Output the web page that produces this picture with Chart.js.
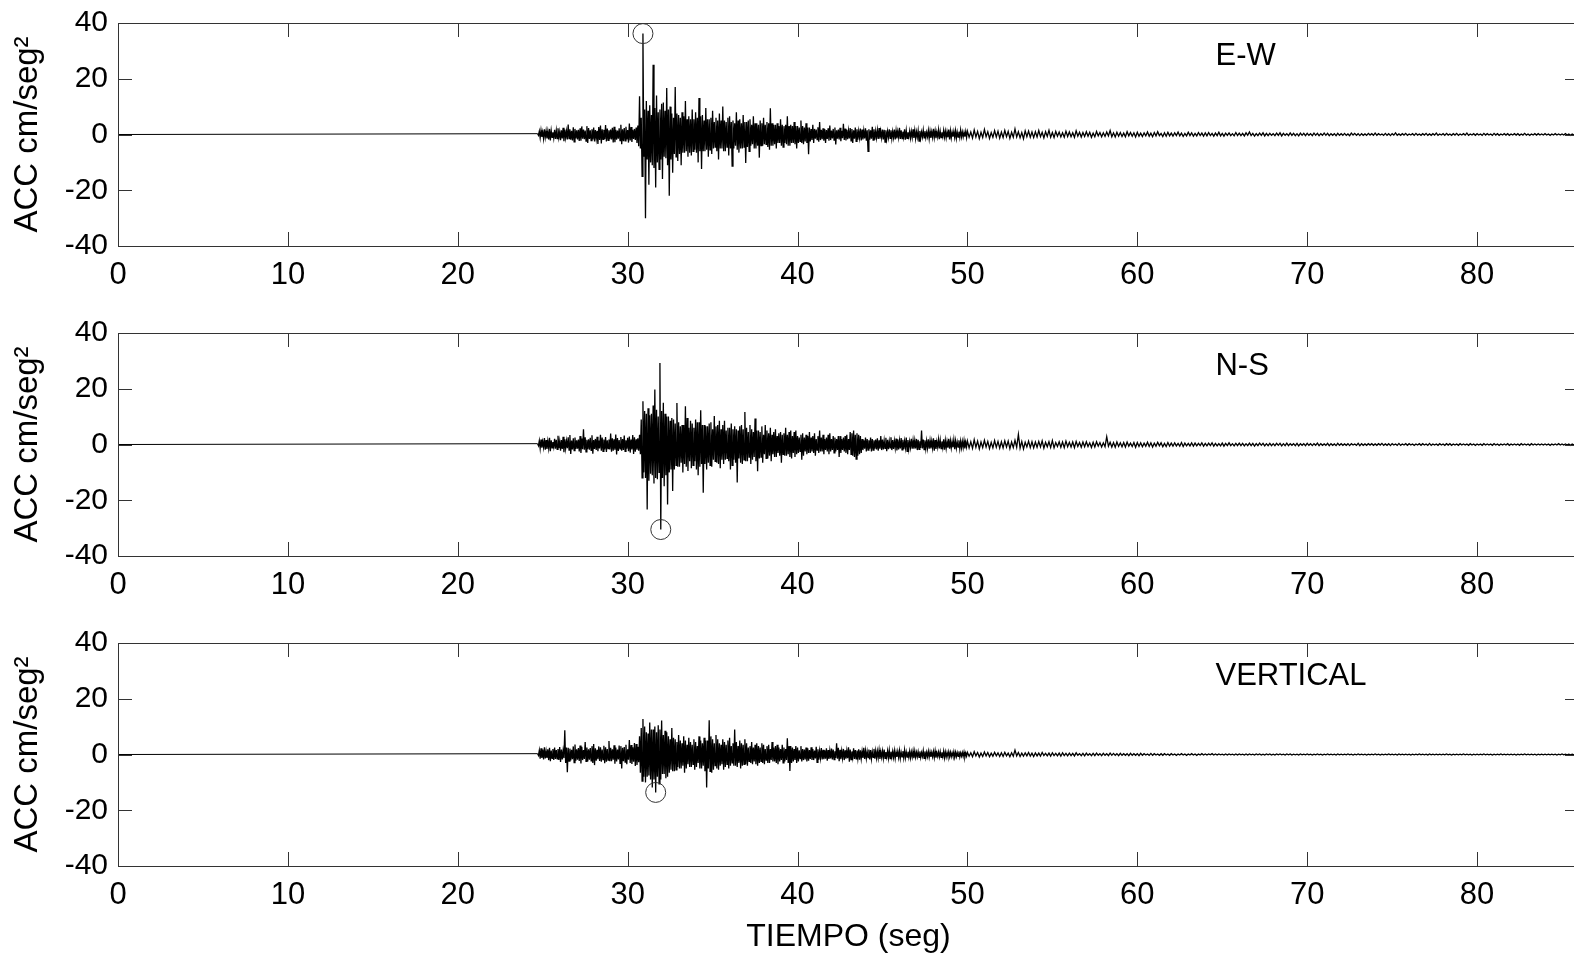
<!DOCTYPE html>
<html>
<head>
<meta charset="utf-8">
<script src="https://cdn.jsdelivr.net/npm/chart.js@4.4.0/dist/chart.umd.min.js"></script>
<style>
  html, body { margin: 0; padding: 0; background: #fff; overflow: hidden; width: 1574px; height: 956px; }
  #wrap { position: relative; width: 1574px; height: 956px; overflow: hidden; background: #fff; }
  canvas { position: absolute; left: 0; }
</style>
</head>
<body>
<div id="wrap">
  <canvas id="c1" width="1600" height="336" style="top:0px"></canvas>
  <canvas id="c2" width="1600" height="336" style="top:310px"></canvas>
  <canvas id="c3" width="1600" height="336" style="top:620px"></canvas>
</div>
<script>
// ---------------- DATA ----------------
const xTicksMin = 0, xTicksMax = 86, xTickStep = 10;
const yTicksMin = -40, yTicksMax = 40, yTickStep = 20;
const componentNames = ['E-W', 'N-S', 'VERTICAL'];
const quietStart = 0;      // trace is flat (0) from here until the onset
const strongStart = 24.7;  // s, first bin of the strong-motion part
const strongStep = 0.1;    // s, bin width (max and min of each bin are listed)
const codaStart = 50;      // s
const codaStep = 0.2;      // s

// E-W : per-bin maxima / minima, 24.7 s .. 49.9 s (cm/seg²)
const ewMax = [
  0.3, 1.2, 1.5, 0.9, 1.9, 1.3, 1.1, 2.0, 1.4, 0.8,
  1.7, 1.4, 2.2, 1.0, 1.5, 2.4, 1.8, 1.2, 3.6, 1.9,
  1.3, 2.6, 2.0, 1.5, 1.7, 2.2, 2.9, 1.8, 1.4, 3.0,
  2.3, 1.5, 1.9, 2.5, 1.6, 1.3, 2.7, 3.2, 1.9, 1.7,
  3.4, 2.1, 1.5, 1.8, 2.4, 2.8, 1.7, 1.4, 2.2, 3.5,
  1.9, 2.3, 2.8, 1.6, 3.9, 2.7, 1.7, 2.0, 2.5, 3.2,
  13.7, 6.0, 36.2, 9.0, 12.0, 8.5, 10.5, 7.0, 25.0, 9.5,
  14.0, 8.0, 9.0, 11.0, 11.5, 8.5, 16.7, 9.0, 10.0, 7.5,
  6.0, 17.0, 7.5, 7.0, 6.0, 8.0, 6.5, 12.0, 5.5, 6.5,
  5.5, 9.0, 5.5, 8.0, 6.0, 13.1, 6.5, 7.0, 5.0, 9.5,
  5.5, 5.5, 6.0, 8.5, 4.5, 6.0, 5.0, 7.5, 5.0, 10.0,
  5.0, 4.5, 6.0, 6.5, 4.5, 5.0, 4.0, 8.0, 5.0, 5.5,
  4.0, 7.0, 4.5, 4.5, 5.0, 5.5, 3.5, 6.5, 4.0, 4.0,
  3.5, 5.0, 4.0, 6.0, 3.5, 4.5, 4.0, 9.4, 4.0, 3.5,
  3.5, 4.0, 3.0, 5.5, 3.5, 3.0, 3.5, 6.5, 3.0, 3.5,
  3.0, 4.5, 3.0, 3.0, 2.5, 5.0, 3.0, 2.5, 4.0, 2.5,
  2.5, 2.0, 3.5, 2.0, 1.8, 2.6, 4.5, 1.7, 2.2, 2.0,
  1.6, 2.2, 3.2, 1.4, 2.0, 2.5, 1.5, 1.8, 2.4, 1.3,
  3.8, 2.1, 1.7, 1.4, 2.3, 2.0, 1.5, 2.5, 1.9, 1.2,
  2.1, 1.8, 1.4, 2.2, 1.5, 1.9, 1.5, 2.8, 1.9, 1.2,
  1.6, 2.3, 1.2, 1.8, 1.7, 1.5, 1.1, 1.9, 1.5, 1.1,
  1.8, 1.4, 1.1, 2.4, 1.5, 1.0, 1.9, 1.4, 0.8, 1.3,
  1.1, 1.9, 1.5, 1.0, 1.4, 1.3, 0.9, 1.6, 1.2, 0.8,
  1.5, 1.2, 1.0, 2.0, 1.3, 0.9, 1.7, 1.1, 0.8, 1.5,
  1.2, 1.0, 1.8, 1.3, 0.8, 1.1, 1.4, 0.9, 1.0, 1.6,
  0.9, 0.8, 1.1
];
const ewMin = [
  -0.3, -1.2, -0.9, -1.5, -1.0, -1.4, -1.8, -2.1, -1.0, -1.3,
  -1.6, -1.5, -1.1, -2.0, -1.4, -2.4, -1.2, -1.8, -1.5, -1.9,
  -2.1, -2.6, -1.4, -1.8, -2.3, -2.2, -1.5, -1.7, -2.4, -3.0,
  -1.6, -2.2, -1.8, -2.5, -1.5, -3.4, -2.0, -3.2, -1.7, -1.6,
  -2.5, -2.1, -1.7, -1.8, -2.9, -2.8, -1.9, -1.5, -2.2, -3.5,
  -2.4, -2.3, -1.8, -2.9, -2.1, -2.7, -1.6, -2.0, -3.0, -4.2,
  -5.0, -15.0, -8.0, -30.0, -9.0, -18.0, -10.0, -11.0, -12.0, -19.0,
  -10.0, -12.5, -9.0, -16.0, -8.0, -8.5, -11.0, -22.0, -9.0, -13.7,
  -7.0, -8.0, -9.5, -7.0, -11.0, -6.5, -6.5, -6.0, -8.0, -6.5,
  -7.5, -6.0, -5.5, -6.5, -10.0, -6.0, -12.4, -6.0, -6.0, -5.5,
  -8.0, -5.5, -7.0, -5.0, -4.5, -6.0, -9.0, -5.0, -5.0, -6.0,
  -6.0, -4.5, -7.5, -5.0, -11.3, -5.0, -4.0, -5.5, -6.5, -5.0,
  -5.0, -4.5, -10.2, -4.5, -6.0, -4.0, -3.5, -5.0, -5.0, -4.0,
  -8.3, -4.0, -4.0, -3.5, -3.5, -4.5, -5.5, -4.0, -4.0, -3.5,
  -5.0, -3.0, -3.0, -4.0, -4.5, -3.0, -3.5, -4.0, -4.0, -3.0,
  -3.0, -3.5, -5.0, -3.0, -2.5, -3.0, -3.5, -2.5, -3.0, -7.1,
  -2.5, -2.0, -3.0, -1.5, -1.8, -2.6, -2.0, -1.7, -2.2, -3.0,
  -1.6, -2.2, -2.0, -1.4, -2.0, -3.6, -1.5, -1.8, -2.4, -1.3,
  -2.0, -2.1, -1.7, -1.4, -2.3, -3.0, -1.5, -2.5, -1.9, -1.2,
  -2.1, -1.8, -1.4, -2.2, -6.0, -1.9, -1.5, -2.0, -1.9, -1.2,
  -1.6, -1.5, -1.2, -1.8, -2.7, -1.5, -1.1, -1.4, -1.5, -1.1,
  -1.8, -1.4, -1.1, -1.6, -1.5, -1.0, -1.9, -1.4, -0.8, -1.3,
  -1.1, -1.2, -1.5, -1.0, -2.4, -1.3, -0.9, -1.2, -1.2, -0.8,
  -1.5, -1.2, -1.0, -1.1, -1.3, -0.9, -1.7, -1.1, -0.8, -1.0,
  -1.2, -1.0, -1.8, -1.3, -0.8, -1.1, -1.4, -0.9, -1.0, -0.9,
  -0.9, -0.8, -1.1
];
// E-W : per-bin maxima / minima, 50 s .. 86 s
const ewCodaMax = [
  1.2, 0.9, 1.6, 1.1, 0.8, 1.8, 1.0, 0.7, 1.4, 1.2,
  0.9, 1.5, 1.1, 0.8, 2.0, 1.0, 0.7, 1.3, 1.2, 0.9,
  1.0, 1.4, 0.8, 1.0, 1.5, 0.7, 1.1, 0.9, 0.6, 1.2,
  0.9, 0.6, 1.3, 0.8, 0.7, 1.0, 0.8, 0.5, 1.1, 0.7,
  0.6, 0.9, 1.4, 0.6, 0.8, 0.7, 0.5, 1.0, 0.7, 0.6,
  0.8, 0.5, 0.6, 0.9, 0.5, 0.7, 1.0, 0.4, 0.6, 0.8,
  0.5, 0.6, 0.9, 0.5, 0.4, 0.8, 0.6, 0.4, 0.7, 0.5,
  0.6, 0.7, 0.4, 0.5, 0.8, 0.4, 0.5, 0.6, 0.3, 0.7,
  0.5, 0.4, 0.6, 0.9, 0.4, 0.3, 0.5, 0.6, 0.4, 0.4,
  0.3, 0.5, 0.6, 0.4, 0.3, 0.6, 0.4, 0.3, 0.5, 0.4,
  0.4, 0.3, 0.5, 0.4, 0.3, 0.5, 0.4, 0.3, 0.3, 0.4,
  0.3, 0.4, 0.2, 0.5, 0.4, 0.3, 0.3, 0.2, 0.4, 0.3,
  0.5, 0.3, 0.2, 0.4, 0.3, 0.3, 0.6, 0.2, 0.3, 0.4,
  0.2, 0.3, 0.4, 0.2, 0.3, 0.4, 0.2, 0.3, 0.5, 0.2,
  0.3, 0.4, 0.2, 0.3, 0.4, 0.2, 0.3, 0.5, 0.2, 0.3,
  0.3, 0.2, 0.4, 0.3, 0.2, 0.4, 0.3, 0.2, 0.3, 0.3,
  0.2, 0.3, 0.3, 0.2, 0.4, 0.2, 0.2, 0.3, 0.3, 0.2,
  0.3, 0.2, 0.2, 0.3, 0.2, 0.2, 0.3, 0.2, 0.2, 0.3,
  0.1
];
const ewCodaMin = [
  -1.0, -1.3, -0.9, -1.5, -1.1, -0.8, -1.4, -1.0, -0.9, -1.3,
  -1.1, -0.8, -1.4, -1.0, -0.9, -1.2, -1.5, -0.8, -1.0, -1.1,
  -0.9, -0.8, -1.2, -0.7, -1.0, -1.1, -0.6, -0.9, -1.0, -0.7,
  -0.8, -1.0, -0.6, -0.9, -0.7, -0.6, -1.0, -0.8, -0.5, -0.8,
  -0.7, -0.5, -0.8, -0.9, -0.6, -0.7, -0.8, -0.5, -0.6, -0.9,
  -0.6, -0.7, -0.5, -0.6, -0.8, -0.5, -0.4, -0.7, -0.6, -0.5,
  -0.6, -0.4, -0.5, -0.7, -0.5, -0.4, -0.6, -0.5, -0.4, -0.6,
  -0.5, -0.4, -0.6, -0.4, -0.5, -0.6, -0.3, -0.4, -0.5, -0.4,
  -0.4, -0.5, -0.3, -0.4, -0.6, -0.4, -0.3, -0.5, -0.4, -0.3,
  -0.4, -0.3, -0.5, -0.3, -0.4, -0.3, -0.4, -0.5, -0.3, -0.4,
  -0.3, -0.4, -0.3, -0.4, -0.3, -0.3, -0.4, -0.3, -0.4, -0.3,
  -0.3, -0.3, -0.4, -0.2, -0.3, -0.4, -0.3, -0.3, -0.2, -0.3,
  -0.3, -0.2, -0.3, -0.3, -0.4, -0.2, -0.3, -0.3, -0.2, -0.3,
  -0.2, -0.3, -0.2, -0.3, -0.2, -0.3, -0.3, -0.2, -0.3, -0.2,
  -0.3, -0.2, -0.3, -0.2, -0.3, -0.2, -0.2, -0.3, -0.2, -0.3,
  -0.2, -0.3, -0.2, -0.2, -0.3, -0.2, -0.3, -0.2, -0.2, -0.3,
  -0.2, -0.2, -0.3, -0.2, -0.2, -0.3, -0.2, -0.2, -0.2, -0.2,
  -0.2, -0.3, -0.2, -0.2, -0.2, -0.2, -0.2, -0.3, -0.2, -0.2,
  -0.1
];

// N-S
const nsMax = [
  0.3, 1.4, 1.8, 1.0, 2.3, 1.6, 1.2, 2.4, 1.5, 0.9,
  2.0, 1.7, 3.1, 1.2, 1.6, 2.8, 1.9, 1.3, 2.6, 3.4,
  1.4, 2.2, 2.5, 1.5, 1.8, 3.0, 2.1, 5.5, 2.6, 1.7,
  1.9, 2.4, 3.3, 1.6, 2.0, 2.8, 1.4, 3.5, 2.5, 1.8,
  2.7, 1.5, 1.8, 3.9, 2.2, 1.9, 3.6, 2.3, 1.6, 2.7,
  2.0, 3.2, 1.5, 2.4, 2.9, 1.8, 3.4, 2.6, 1.9, 2.2,
  3.5, 9.0, 15.5, 12.0, 11.0, 13.0, 10.5, 11.0, 14.0, 19.7,
  12.5, 10.0, 29.2, 12.0, 15.0, 11.0, 10.0, 10.0, 8.5, 9.5,
  9.0, 7.5, 14.9, 8.0, 6.5, 7.0, 7.0, 13.7, 9.5, 6.0,
  8.5, 7.5, 6.0, 9.0, 8.0, 8.0, 12.3, 7.0, 7.0, 6.5,
  6.5, 7.5, 8.0, 5.5, 10.2, 6.5, 7.0, 8.5, 5.5, 7.0,
  8.5, 5.0, 6.0, 6.0, 7.5, 5.5, 6.5, 5.5, 5.0, 6.5,
  7.0, 5.5, 11.7, 6.0, 4.5, 7.0, 5.5, 4.5, 9.3, 5.0,
  5.0, 4.5, 6.5, 3.5, 7.0, 5.0, 4.0, 6.0, 3.5, 4.5,
  5.5, 3.0, 4.0, 4.5, 3.5, 4.0, 6.0, 3.5, 4.5, 5.0,
  3.0, 4.5, 5.0, 3.0, 2.5, 3.5, 4.0, 2.5, 3.5, 3.0,
  4.5, 2.5, 3.0, 4.0, 2.0, 3.0, 5.0, 2.5, 3.5, 2.0,
  2.5, 3.5, 4.0, 2.0, 3.0, 2.5, 2.0, 3.0, 3.0, 2.0,
  2.5, 3.0, 3.5, 2.0, 4.5, 4.0, 5.0, 3.5, 4.0, 3.5,
  3.0, 2.0, 1.5, 2.5, 2.0, 1.5, 2.5, 2.0, 1.5, 1.8,
  2.2, 1.5, 3.0, 1.8, 1.4, 2.4, 1.7, 1.2, 2.6, 1.6,
  1.3, 2.1, 1.8, 1.4, 2.3, 1.7, 1.2, 2.5, 1.6, 1.1,
  2.0, 1.5, 1.4, 2.0, 1.7, 1.2, 5.0, 1.8, 1.5, 1.3,
  1.9, 1.4, 1.2, 2.2, 1.6, 1.0, 1.8, 1.5, 1.1, 1.9,
  1.4, 1.1, 2.0, 1.3, 1.0, 1.7, 1.3, 0.9, 1.5, 1.2,
  1.1, 1.4, 0.9
];
const nsMin = [
  -0.4, -1.4, -1.1, -1.0, -1.9, -1.6, -1.3, -2.4, -1.2, -0.9,
  -1.5, -1.7, -1.3, -2.2, -1.6, -2.8, -1.4, -1.3, -2.0, -3.4,
  -1.8, -2.2, -1.6, -1.5, -2.5, -3.0, -1.7, -1.9, -2.6, -1.7,
  -1.9, -2.1, -3.3, -1.6, -2.0, -2.4, -1.4, -2.2, -2.5, -1.8,
  -2.7, -1.5, -1.8, -2.6, -2.2, -1.9, -3.6, -2.3, -1.6, -2.2,
  -2.0, -2.5, -1.5, -2.4, -2.9, -1.8, -3.4, -2.6, -1.9, -2.2,
  -3.5, -12.0, -10.0, -12.0, -23.3, -13.0, -10.5, -11.0, -14.0, -12.0,
  -12.5, -10.0, -30.5, -12.0, -15.0, -11.0, -21.5, -10.0, -9.0, -16.7,
  -9.0, -7.5, -8.0, -8.0, -6.5, -10.0, -7.0, -8.0, -9.5, -6.0,
  -8.5, -7.5, -6.0, -9.0, -11.0, -8.0, -7.0, -17.3, -7.0, -9.0,
  -6.5, -7.5, -8.0, -5.5, -6.0, -6.5, -7.0, -8.5, -5.5, -7.0,
  -5.5, -5.0, -6.0, -9.0, -7.5, -5.5, -6.5, -13.6, -5.0, -6.5,
  -7.0, -5.5, -6.0, -6.0, -4.5, -7.0, -5.5, -4.5, -6.0, -9.6,
  -5.0, -4.5, -6.5, -3.5, -5.0, -5.0, -4.0, -6.0, -3.5, -4.5,
  -4.5, -3.0, -4.0, -6.5, -3.5, -4.0, -4.0, -3.5, -4.5, -5.0,
  -3.0, -4.5, -3.5, -3.0, -2.5, -5.5, -4.0, -2.5, -3.5, -3.0,
  -3.0, -2.5, -3.0, -4.0, -2.0, -3.0, -2.5, -2.5, -3.5, -2.0,
  -2.5, -3.5, -2.5, -2.0, -3.0, -2.5, -2.0, -4.5, -3.0, -2.0,
  -2.5, -3.0, -3.5, -2.0, -3.5, -4.0, -4.5, -5.2, -4.0, -3.5,
  -3.0, -2.0, -1.5, -2.5, -2.0, -1.5, -2.5, -2.0, -1.5, -1.8,
  -2.2, -1.5, -2.0, -1.8, -1.4, -2.4, -1.7, -1.2, -2.0, -1.6,
  -1.3, -2.1, -1.8, -1.4, -1.9, -1.7, -1.2, -2.5, -1.6, -1.1,
  -1.5, -1.5, -1.4, -2.0, -1.7, -1.2, -1.4, -1.8, -1.5, -1.3,
  -1.5, -1.4, -1.2, -2.2, -1.6, -1.0, -1.4, -1.5, -1.1, -1.9,
  -1.4, -1.1, -1.5, -1.3, -1.0, -1.7, -1.3, -0.9, -1.5, -1.2,
  -1.1, -1.4, -0.9
];
const nsCodaMax = [
  1.3, 1.0, 1.7, 1.2, 0.9, 1.5, 1.1, 0.8, 1.4, 1.1,
  1.0, 1.3, 1.2, 0.9, 1.5, 3.6, 1.1, 0.8, 1.2, 1.0,
  0.9, 1.1, 1.3, 0.8, 1.0, 1.4, 0.7, 1.0, 0.9, 1.2,
  0.8, 0.9, 1.1, 0.7, 0.9, 1.0, 0.6, 0.8, 1.0, 0.7,
  0.6, 2.8, 0.8, 0.7, 0.9, 0.6, 0.7, 0.9, 0.5, 0.7,
  0.7, 0.6, 0.5, 0.8, 0.6, 0.5, 0.8, 0.6, 0.4, 0.7,
  0.5, 0.6, 0.4, 0.7, 0.5, 0.4, 0.6, 0.5, 0.4, 0.6,
  0.4, 0.5, 0.6, 0.4, 0.3, 0.5, 0.4, 0.6, 0.3, 0.4,
  0.5, 0.4, 0.3, 0.5, 0.4, 0.3, 0.5, 0.4, 0.3, 0.4,
  0.3, 0.4, 0.4, 0.3, 0.5, 0.3, 0.3, 0.4, 0.3, 0.3,
  0.4, 0.3, 0.3, 0.5, 0.3, 0.2, 0.4, 0.3, 0.2, 0.4,
  0.3, 0.2, 0.3, 0.3, 0.2, 0.4, 0.3, 0.2, 0.3, 0.3,
  0.2, 0.3, 0.4, 0.2, 0.3, 0.3, 0.2, 0.4, 0.2, 0.3,
  0.3, 0.2, 0.2, 0.3, 0.3, 0.2, 0.4, 0.2, 0.2, 0.3,
  0.2, 0.3, 0.3, 0.2, 0.2, 0.3, 0.2, 0.2, 0.3, 0.2,
  0.2, 0.2, 0.3, 0.2, 0.2, 0.3, 0.2, 0.2, 0.2, 0.3,
  0.2, 0.2, 0.2, 0.3, 0.2, 0.2, 0.3, 0.2, 0.2, 0.2,
  0.2, 0.2, 0.2, 0.2, 0.3, 0.2, 0.2, 0.2, 0.2, 0.2,
  0.1
];
const nsCodaMin = [
  -1.2, -1.4, -1.0, -1.6, -1.1, -0.9, -1.5, -1.2, -1.0, -1.3,
  -1.2, -0.9, -1.5, -1.1, -1.0, -1.3, -1.6, -0.9, -1.1, -1.2,
  -1.0, -0.9, -1.3, -0.8, -1.1, -1.2, -0.7, -1.0, -1.1, -0.8,
  -0.9, -1.1, -0.7, -1.0, -0.8, -0.7, -1.1, -0.9, -0.6, -0.9,
  -0.8, -0.6, -0.9, -1.0, -0.7, -0.8, -0.9, -0.6, -0.7, -1.0,
  -0.7, -0.8, -0.6, -0.7, -0.9, -0.6, -0.5, -0.8, -0.7, -0.6,
  -0.6, -0.5, -0.6, -0.7, -0.5, -0.5, -0.6, -0.5, -0.4, -0.6,
  -0.5, -0.4, -0.6, -0.5, -0.5, -0.6, -0.4, -0.4, -0.5, -0.4,
  -0.4, -0.5, -0.4, -0.4, -0.6, -0.4, -0.3, -0.5, -0.4, -0.4,
  -0.4, -0.3, -0.5, -0.4, -0.4, -0.3, -0.4, -0.5, -0.3, -0.4,
  -0.3, -0.4, -0.3, -0.4, -0.3, -0.3, -0.4, -0.3, -0.4, -0.3,
  -0.3, -0.3, -0.4, -0.2, -0.3, -0.4, -0.3, -0.3, -0.2, -0.3,
  -0.3, -0.2, -0.3, -0.3, -0.4, -0.2, -0.3, -0.3, -0.2, -0.3,
  -0.2, -0.3, -0.2, -0.3, -0.2, -0.3, -0.3, -0.2, -0.3, -0.2,
  -0.3, -0.2, -0.3, -0.2, -0.3, -0.2, -0.2, -0.3, -0.2, -0.3,
  -0.2, -0.3, -0.2, -0.2, -0.3, -0.2, -0.3, -0.2, -0.2, -0.3,
  -0.2, -0.2, -0.3, -0.2, -0.2, -0.3, -0.2, -0.2, -0.2, -0.2,
  -0.2, -0.3, -0.2, -0.2, -0.2, -0.2, -0.2, -0.3, -0.2, -0.2,
  -0.1
];

// VERTICAL
const vMax = [
  0.3, 1.5, 2.2, 1.8, 2.6, 1.2, 1.9, 2.4, 1.4, 2.0,
  2.5, 1.6, 2.0, 2.7, 1.8, 1.3, 8.7, 2.5, 2.4, 2.1,
  1.7, 2.9, 3.6, 1.9, 2.3, 3.2, 2.8, 1.6, 4.5, 2.5,
  1.9, 2.3, 3.0, 3.8, 2.2, 1.7, 2.9, 2.6, 1.8, 3.1,
  2.6, 2.0, 4.8, 2.4, 1.9, 3.3, 2.5, 1.8, 3.2, 3.0,
  2.4, 2.7, 3.5, 1.9, 5.2, 3.4, 2.6, 4.1, 3.8, 2.8,
  6.5, 9.5, 12.7, 10.0, 8.0, 7.5, 11.5, 9.0, 9.0, 10.0,
  8.0, 10.5, 9.0, 12.2, 7.0, 8.5, 8.0, 6.5, 5.5, 9.5,
  6.0, 5.5, 4.5, 7.0, 5.0, 4.0, 6.5, 5.0, 3.5, 6.0,
  4.5, 3.5, 5.5, 4.5, 3.0, 6.5, 5.0, 4.0, 6.0, 5.0,
  5.0, 12.3, 6.5, 5.5, 4.0, 7.0, 5.5, 4.0, 3.5, 5.5,
  4.5, 3.5, 5.0, 6.0, 3.0, 4.0, 9.0, 4.5, 3.0, 5.0,
  4.0, 3.5, 5.5, 4.0, 2.5, 3.0, 4.5, 2.5, 3.5, 4.0,
  3.0, 2.5, 4.0, 3.5, 2.0, 3.0, 3.5, 2.0, 4.5, 2.5,
  3.0, 3.5, 2.5, 2.0, 3.5, 2.5, 2.0, 5.8, 3.0, 3.0,
  2.5, 2.0, 3.0, 2.5, 1.5, 3.0, 2.0, 1.8, 2.5, 2.2,
  1.6, 2.6, 2.0, 1.4, 2.8, 1.9, 1.3, 2.3, 1.7, 1.5,
  2.2, 1.6, 1.4, 2.1, 1.8, 1.2, 4.0, 2.4, 1.7, 1.3,
  2.0, 1.5, 1.3, 2.6, 1.8, 1.1, 2.2, 1.6, 1.4, 1.9,
  1.5, 1.2, 2.4, 1.4, 1.1, 1.8, 1.6, 1.0, 2.0, 1.3,
  1.2, 1.6, 1.0, 1.3, 1.8, 0.9, 1.3, 1.5, 1.0, 1.1,
  1.4, 0.9, 1.1, 1.4, 0.8, 1.2, 1.6, 0.9, 1.0, 1.2,
  0.9, 1.3, 1.2, 0.8, 1.0, 1.1, 0.7, 1.4, 1.1, 0.8,
  1.2, 0.9, 0.8, 1.1, 1.3, 0.7, 0.9, 1.0, 0.8, 1.2,
  0.9, 0.7, 1.0, 0.8, 0.6, 1.0, 0.8, 0.7, 1.1, 0.6,
  0.7, 0.9, 0.6
];
const vMin = [
  -0.3, -1.5, -1.2, -1.8, -1.4, -1.2, -2.0, -2.4, -1.4, -2.0,
  -1.6, -1.6, -2.0, -2.7, -1.8, -1.3, -3.0, -6.4, -2.4, -2.1,
  -1.7, -2.9, -2.2, -1.9, -2.3, -3.2, -2.0, -1.6, -2.5, -2.5,
  -1.9, -2.3, -3.0, -3.8, -2.2, -1.7, -2.3, -2.6, -1.8, -3.1,
  -2.6, -2.0, -2.4, -2.4, -1.9, -3.3, -2.5, -1.8, -3.2, -5.0,
  -2.4, -2.7, -3.5, -1.9, -3.0, -3.4, -2.6, -4.1, -3.8, -2.8,
  -6.5, -9.5, -8.0, -10.0, -8.0, -7.5, -9.0, -11.8, -9.0, -13.6,
  -8.0, -10.5, -9.0, -7.0, -7.0, -8.5, -8.0, -6.5, -5.5, -6.0,
  -6.0, -5.5, -4.5, -5.0, -5.0, -4.0, -6.5, -5.0, -3.5, -4.5,
  -4.5, -3.5, -5.5, -4.5, -3.0, -5.0, -5.0, -4.0, -6.0, -11.8,
  -5.0, -6.0, -6.5, -5.5, -4.0, -5.0, -5.5, -4.0, -3.5, -5.5,
  -4.5, -3.5, -5.0, -4.0, -3.0, -4.0, -4.0, -4.5, -3.0, -5.0,
  -4.0, -3.5, -3.5, -4.0, -2.5, -3.0, -3.5, -2.5, -3.5, -4.0,
  -3.0, -2.5, -3.0, -3.5, -2.0, -3.0, -3.0, -2.0, -2.5, -2.5,
  -3.0, -3.5, -2.5, -2.0, -3.0, -2.5, -2.0, -3.0, -5.9, -3.0,
  -2.5, -2.0, -3.0, -2.5, -1.5, -2.5, -2.0, -1.8, -2.5, -2.2,
  -1.6, -2.0, -2.0, -1.4, -2.8, -1.9, -1.3, -1.8, -1.7, -1.5,
  -2.2, -1.6, -1.4, -1.8, -1.8, -1.2, -1.5, -2.4, -1.7, -1.3,
  -2.0, -1.5, -1.3, -2.6, -1.8, -1.1, -1.6, -1.6, -1.4, -1.9,
  -1.5, -1.2, -1.6, -1.4, -1.1, -1.8, -1.6, -1.0, -1.5, -1.3,
  -1.2, -1.6, -1.0, -1.3, -1.4, -0.9, -1.3, -1.5, -1.0, -1.1,
  -1.4, -0.9, -1.1, -1.4, -0.8, -1.2, -1.2, -0.9, -1.0, -1.2,
  -0.9, -1.3, -1.0, -0.8, -1.0, -1.1, -0.7, -1.4, -1.1, -0.8,
  -1.0, -0.9, -0.8, -1.1, -1.1, -0.7, -0.9, -1.0, -0.8, -1.2,
  -0.9, -0.7, -0.8, -0.8, -0.6, -1.0, -0.8, -0.7, -0.9, -0.6,
  -0.7, -0.9, -0.6
];
const vCodaMax = [
  0.8, 0.6, 1.0, 0.7, 0.5, 0.9, 0.7, 0.5, 0.8, 0.6,
  0.6, 0.8, 0.5, 0.6, 1.6, 0.7, 0.5, 0.6, 0.7, 0.5,
  0.6, 0.5, 0.7, 0.4, 0.5, 0.6, 0.4, 0.5, 0.6, 0.4,
  0.5, 0.4, 0.6, 0.3, 0.4, 0.5, 0.3, 0.4, 0.5, 0.3,
  0.4, 0.3, 0.5, 0.4, 0.3, 0.4, 0.3, 0.3, 0.4, 0.3,
  0.3, 0.4, 0.3, 0.2, 0.4, 0.3, 0.2, 0.3, 0.3, 0.2,
  0.3, 0.2, 0.2, 0.3, 0.2, 0.2, 0.3, 0.2, 0.2, 0.3,
  0.2, 0.2, 0.3, 0.2, 0.2, 0.1, 0.2, 0.2, 0.1, 0.2,
  0.2, 0.1, 0.2, 0.2, 0.1, 0.2, 0.2, 0.1, 0.2, 0.2,
  0.1, 0.2, 0.2, 0.1, 0.2, 0.2, 0.1, 0.1, 0.2, 0.1,
  0.2, 0.1, 0.1, 0.2, 0.1, 0.1, 0.2, 0.1, 0.1, 0.2,
  0.1, 0.1, 0.2, 0.1, 0.1, 0.2, 0.1, 0.1, 0.1, 0.1,
  0.2, 0.1, 0.1, 0.1, 0.2, 0.1, 0.1, 0.2, 0.1, 0.1,
  0.1, 0.1, 0.1, 0.2, 0.1, 0.1, 0.2, 0.1, 0.1, 0.1,
  0.1, 0.2, 0.1, 0.1, 0.1, 0.1, 0.2, 0.1, 0.1, 0.1,
  0.1, 0.1, 0.2, 0.1, 0.1, 0.1, 0.1, 0.2, 0.1, 0.1,
  0.1, 0.1, 0.1, 0.1, 0.2, 0.1, 0.1, 0.1, 0.1, 0.1,
  0.1, 0.1, 0.1, 0.1, 0.1, 0.2, 0.1, 0.1, 0.1, 0.1,
  0.1
];
const vCodaMin = [
  -0.6, -0.8, -0.5, -0.9, -0.7, -0.5, -0.8, -0.6, -0.5, -0.7,
  -0.7, -0.5, -0.8, -0.6, -0.5, -0.7, -0.6, -0.5, -0.6, -0.7,
  -0.5, -0.6, -0.4, -0.5, -0.6, -0.4, -0.5, -0.6, -0.4, -0.5,
  -0.4, -0.5, -0.3, -0.4, -0.5, -0.3, -0.4, -0.4, -0.3, -0.4,
  -0.3, -0.4, -0.3, -0.3, -0.4, -0.3, -0.3, -0.4, -0.3, -0.3,
  -0.4, -0.3, -0.2, -0.3, -0.3, -0.2, -0.3, -0.3, -0.2, -0.3,
  -0.2, -0.3, -0.2, -0.2, -0.3, -0.2, -0.2, -0.3, -0.2, -0.2,
  -0.2, -0.1, -0.2, -0.2, -0.1, -0.2, -0.2, -0.1, -0.2, -0.2,
  -0.1, -0.2, -0.2, -0.1, -0.2, -0.1, -0.2, -0.2, -0.1, -0.2,
  -0.2, -0.1, -0.1, -0.2, -0.1, -0.2, -0.1, -0.2, -0.1, -0.1,
  -0.1, -0.2, -0.1, -0.1, -0.2, -0.1, -0.1, -0.1, -0.2, -0.1,
  -0.1, -0.1, -0.1, -0.2, -0.1, -0.1, -0.1, -0.2, -0.1, -0.1,
  -0.1, -0.2, -0.1, -0.1, -0.1, -0.1, -0.2, -0.1, -0.1, -0.1,
  -0.2, -0.1, -0.1, -0.1, -0.1, -0.2, -0.1, -0.1, -0.1, -0.1,
  -0.1, -0.1, -0.2, -0.1, -0.1, -0.1, -0.1, -0.1, -0.2, -0.1,
  -0.1, -0.1, -0.1, -0.1, -0.2, -0.1, -0.1, -0.1, -0.1, -0.1,
  -0.1, -0.2, -0.1, -0.1, -0.1, -0.1, -0.1, -0.2, -0.1, -0.1,
  -0.1, -0.1, -0.1, -0.2, -0.1, -0.1, -0.1, -0.1, -0.1, -0.1,
  -0.1
];

// circled peak of each component (time s, value cm/seg²)
const peakTimes = [30.9, 31.95, 31.65];
const peakValues = [36.2, -30.5, -13.6];

const yTitle = 'ACC cm/seg²';
const xTitle = 'TIEMPO (seg)';
// --------------------------------------

const FONT = '"Liberation Sans", Arial, Helvetica, sans-serif';
const LABEL_T = 64.6, LABEL_V = 28;   // where the component name sits (data coords)
const TICK_LEN = 14;

// each bin is drawn as its maximum followed by its minimum
function buildSeries(mx, mn, cmx, cmn) {
  const pts = [{ x: quietStart, y: 0 }];
  mx.forEach((v, i) => {
    const t = strongStart + i * strongStep;
    pts.push({ x: +t.toFixed(3), y: v });
    pts.push({ x: +(t + strongStep / 2).toFixed(3), y: mn[i] });
  });
  cmx.forEach((v, i) => {
    const t = codaStart + i * codaStep;
    pts.push({ x: +t.toFixed(3), y: v });
    pts.push({ x: +(t + codaStep / 2).toFixed(3), y: cmn[i] });
  });
  return pts;
}

const framePlugin = {
  id: 'frame',
  afterDatasetsDraw(chart, args, opts) {
    const { ctx, chartArea: a, scales: { x, y } } = chart;
    ctx.save();
    ctx.strokeStyle = '#333';
    ctx.lineWidth = 1;
    ctx.beginPath();
    x.ticks.forEach(t => {
      const px = Math.round(x.getPixelForValue(t.value)) + 0.5;
      ctx.moveTo(px, a.bottom); ctx.lineTo(px, a.bottom - TICK_LEN);
      ctx.moveTo(px, a.top); ctx.lineTo(px, a.top + TICK_LEN);
    });
    y.ticks.forEach(t => {
      const py = Math.round(y.getPixelForValue(t.value)) + 0.5;
      ctx.moveTo(a.left, py); ctx.lineTo(a.left + TICK_LEN, py);
      ctx.moveTo(a.right, py); ctx.lineTo(a.right - TICK_LEN, py);
    });
    ctx.stroke();
    ctx.strokeRect(Math.round(a.left) + 0.5, Math.round(a.top) + 0.5,
                   Math.round(a.right - a.left), Math.round(a.bottom - a.top));
    ctx.fillStyle = '#000';
    ctx.font = '31px ' + FONT;
    ctx.textAlign = 'left';
    ctx.textBaseline = 'middle';
    ctx.fillText(opts.label, x.getPixelForValue(LABEL_T), y.getPixelForValue(LABEL_V));
    ctx.restore();
  }
};

const comps = [
  [ewMax, ewMin, ewCodaMax, ewCodaMin],
  [nsMax, nsMin, nsCodaMax, nsCodaMin],
  [vMax, vMin, vCodaMax, vCodaMin]
];

comps.forEach((c, k) => {
  const isLast = k === comps.length - 1;
  new Chart(document.getElementById('c' + (k + 1)), {
    type: 'line',
    plugins: [framePlugin],
    data: {
      datasets: [
        {
          data: buildSeries(c[0], c[1], c[2], c[3]),
          borderColor: '#000',
          borderWidth: 1,
          pointRadius: 0,
          tension: 0,
          fill: false,
          order: 2,
          segment: {
            borderWidth: ctx => (ctx.p0.parsed.x < strongStart ? 1 : 1.3)
          }
        },
        {
          data: [{ x: peakTimes[k], y: peakValues[k] }],
          showLine: false,
          pointRadius: 10,
          pointHoverRadius: 10,
          pointStyle: 'circle',
          borderColor: '#333',
          borderWidth: 1,
          backgroundColor: 'rgba(0,0,0,0)',
          clip: false,
          order: 1
        }
      ]
    },
    options: {
      responsive: false,
      animation: false,
      events: [],
      layout: { padding: { top: 23, left: 0, right: 21, bottom: 0 } },
      plugins: {
        legend: { display: false },
        tooltip: { enabled: false },
        frame: { label: componentNames[k] }
      },
      scales: {
        x: {
          type: 'linear',
          min: xTicksMin,
          max: xTicksMax,
          grid: { display: false, drawTicks: false },
          border: { display: false },
          ticks: {
            stepSize: xTickStep,
            includeBounds: false,
            autoSkip: false,
            maxRotation: 0,
            padding: 11,
            color: '#000',
            font: { family: FONT, size: 31 }
          },
          title: {
            display: isLast,
            text: xTitle,
            color: '#000',
            font: { family: FONT, size: 32 },
            padding: { top: 0, bottom: 0 }
          },
          afterFit: s => { s.height = 90; s.paddingLeft = 0; s.paddingRight = 0; }
        },
        y: {
          type: 'linear',
          min: yTicksMin,
          max: yTicksMax,
          grid: { display: false, drawTicks: false },
          border: { display: false },
          ticks: {
            stepSize: yTickStep,
            padding: 10,
            color: '#000',
            font: { family: FONT, size: 30 }
          },
          title: {
            display: true,
            text: yTitle,
            color: '#000',
            font: { family: FONT, size: 33 },
            padding: { top: 8, bottom: 0 }
          },
          afterFit: s => { s.width = 118; s.paddingTop = 0; s.paddingBottom = 0; }
        }
      }
    }
  });
});
</script>
</body>
</html>
